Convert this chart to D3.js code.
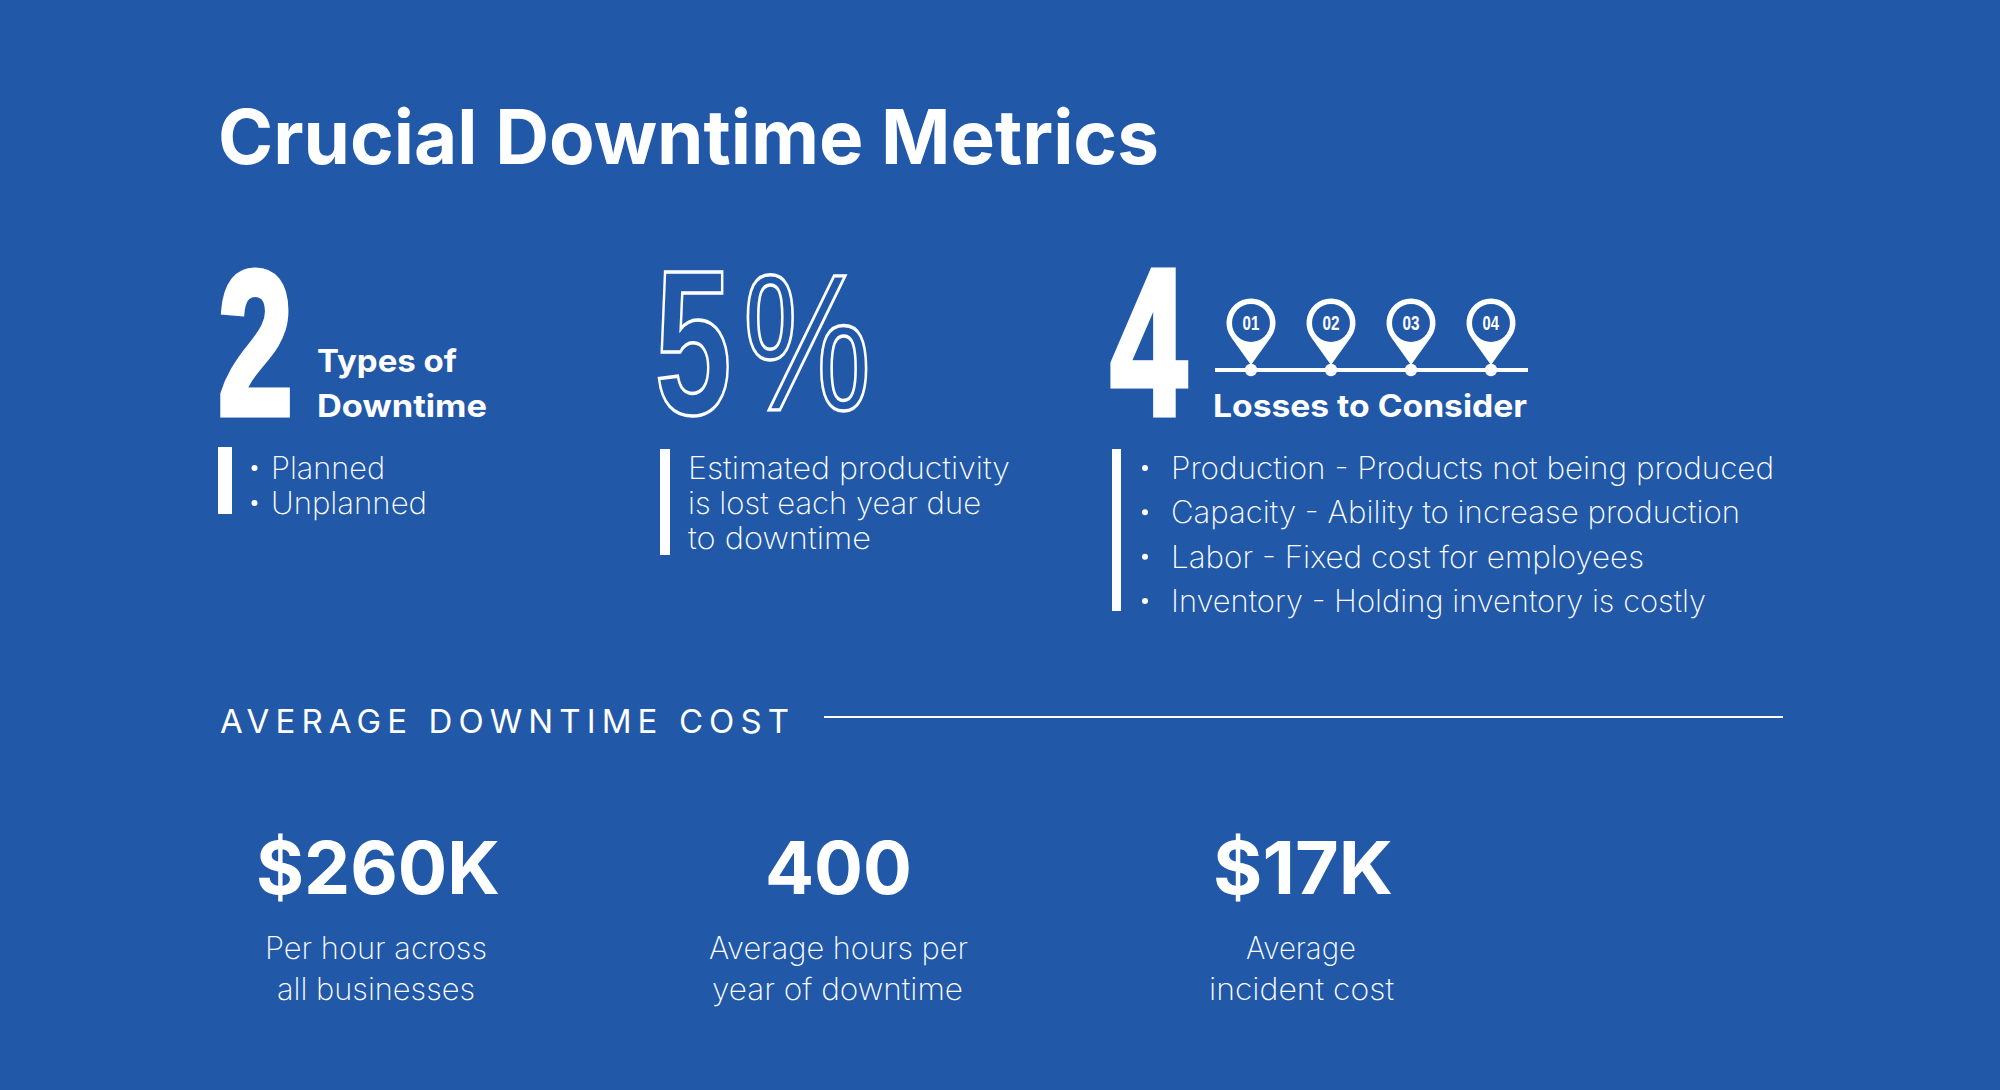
<!DOCTYPE html>
<html>
<head>
<meta charset="utf-8">
<script src="https://cdn.jsdelivr.net/npm/d3@7"></script>
<style>
  html, body { margin: 0; padding: 0; background: #2159a8; }
  svg { display: block; }
  text { fill: #fff; font-family: Inter, "Open Sans", sans-serif; }
  .light { font-weight: 200; font-size: 31px; }
  .head { font-weight: 700; font-size: 31px; }
  .big { font-family: "Liberation Sans", sans-serif; font-weight: 700; }
</style>
</head>
<body>
<script>
// Inhalte
const titleText = "Crucial Downtime Metrics";
const typesHead = ["Types of", "Downtime"];
const typesList = ["Planned", "Unplanned"];
const prodLines = ["Estimated productivity", "is lost each year due", "to downtime"];
const pinLabels = ["01", "02", "03", "04"];
const lossHead = "Losses to Consider";
const lossList = [
  "Production - Products not being produced",
  "Capacity - Ability to increase production",
  "Labor - Fixed cost for employees",
  "Inventory - Holding inventory is costly"
];
const sectionText = "AVERAGE DOWNTIME COST";
const costValues = ["$260K", "400", "$17K"];
const costLabels = [
  ["Per hour across", "all businesses"],
  ["Average hours per", "year of downtime"],
  ["Average", "incident cost"]
];

const bg = "#2159a8";
const svg = d3.select("body").append("svg").attr("width", 2000).attr("height", 1090);
svg.append("rect").attr("width", 2000).attr("height", 1090).attr("fill", bg);

// Schriftbreiten auf die Vorlage ziehen
function line(parent, txt, x, y, w, cls, size) {
  const t = parent.append("text").attr("x", x).attr("y", y).attr("class", cls).text(txt);
  if (size) t.style("font-size", size + "px");
  if (w) t.attr("textLength", w).attr("lengthAdjust", "spacingAndGlyphs");
  return t;
}

// Zeichen exakt in eine Box einpassen (grosse Ziffern)
const ctx = document.createElement("canvas").getContext("2d");
function fit(parent, txt, box, weight) {
  const [x0, y0, x1, y1] = box;
  ctx.font = `${weight} 100px "Liberation Sans"`;
  const m = ctx.measureText(txt);
  const sx = (x1 - x0) / (m.actualBoundingBoxLeft + m.actualBoundingBoxRight);
  const sy = (y1 - y0) / (m.actualBoundingBoxAscent + m.actualBoundingBoxDescent);
  return parent.append("text")
    .attr("class", "big")
    .style("font-size", "100px")
    .style("font-weight", weight)
    .attr("transform", `translate(${x0 + m.actualBoundingBoxLeft * sx},${y1 - m.actualBoundingBoxDescent * sy}) scale(${sx},${sy})`)
    .text(txt);
}

// Duenne Ziffern etwas fetter machen
function heavy(s, w) {
  return s.style("stroke", "#fff").style("stroke-width", w).style("vector-effect", "non-scaling-stroke");
}

function bar(x, y0, y1, w) {
  svg.append("rect").attr("x", x).attr("y", y0).attr("width", w).attr("height", y1 - y0).attr("fill", "#fff");
}

// Titel
line(svg, titleText, 218, 164, 941, "head", 75);

// Block 1
heavy(fit(svg, "2", [222, 271, 288, 414], 700), 6);
const headW = [140, 170];
typesHead.forEach((d, i) => line(svg, d, 317, [372, 417][i], headW[i], "head", 31));
bar(218, 447, 514, 14);
const typesY = d3.scalePoint().domain(typesList).range([479, 514]);
const typesW = [114, 156];
svg.selectAll(".dotA").data(typesList).enter().append("circle")
  .attr("cx", 254.5).attr("cy", d => typesY(d) - 11).attr("r", 3).attr("fill", "#fff");
typesList.forEach((d, i) => line(svg, d, 271, typesY(d), typesW[i], "light"));

// Block 2
const outline5 = fit(svg, "5", [659, 272, 728, 416], 700);
const outlinePct = fit(svg, "%", [747, 273, 867, 412], 400);
[outline5, outlinePct].forEach(s => s
  .style("fill", "none").style("stroke", "#fff").style("stroke-width", 3)
  .style("vector-effect", "non-scaling-stroke"));
bar(660, 449, 555, 10);
const prodY = d3.scalePoint().domain(prodLines).range([479, 549]);
const prodW = [322, 293, 183];
prodLines.forEach((d, i) => line(svg, d, 688, prodY(d), prodW[i], "light"));

// Block 3
heavy(fit(svg, "4", [1112, 271, 1187, 414], 700), 6);
const pinX = d3.scalePoint().domain(pinLabels).range([1251, 1491]);
const lineY = 370;
svg.append("line").attr("x1", 1215).attr("x2", 1528).attr("y1", lineY).attr("y2", lineY)
  .attr("stroke", "#fff").attr("stroke-width", 4);

function pinPath(r, d) {
  // Kreis mit Tangenten zur Spitze, Ursprung im Kreismittelpunkt
  const a = Math.asin(r / d);
  const p = d3.path();
  p.moveTo(0, d);
  p.arc(0, 0, r, a, Math.PI - a, true);
  p.closePath();
  return p.toString();
}
const pins = svg.selectAll(".pin").data(pinLabels).enter().append("g")
  .attr("class", "pin")
  .attr("transform", d => `translate(${pinX(d)},${lineY - 47})`);
pins.append("path").attr("d", pinPath(24.5, 42)).attr("fill", "#fff");
pins.append("circle").attr("r", 19).attr("fill", bg);
pins.each(function(d) { fit(d3.select(this), d, [-8, -7.5, 8, 7.5], 700); });
svg.selectAll(".stop").data(pinLabels).enter().append("circle")
  .attr("cx", d => pinX(d)).attr("cy", lineY).attr("r", 6.2).attr("fill", "#fff");
line(svg, lossHead, 1213, 417, 314, "head", 31);

bar(1112, 449, 611, 9);
const lossY = d3.scalePoint().domain(lossList).range([479, 612]);
const lossW = [603, 569, 473, 535];
svg.selectAll(".dotC").data(lossList).enter().append("circle")
  .attr("cx", 1145).attr("cy", d => lossY(d) - 11).attr("r", 3).attr("fill", "#fff");
lossList.forEach((d, i) => line(svg, d, 1171, lossY(d), lossW[i], "light"));

// Abschnitt Kosten
svg.append("text").attr("x", 220).attr("y", 733).attr("textLength", 569)
  .style("font-size", "33px").style("font-weight", 400).text(sectionText);
svg.append("line").attr("x1", 824).attr("x2", 1783).attr("y1", 717).attr("y2", 717)
  .attr("stroke", "#fff").attr("stroke-width", 2);

const costX = [256, 765, 1213];
const costW = [244, 147, 180];
costValues.forEach((d, i) => line(svg, d, costX[i], 894, costW[i], "head", 73));

const labelX = [[265, 277], [709, 712], [1246, 1209]];
const labelW = [[222, 198], [259, 251], [110, 185]];
costLabels.forEach((rows, i) => rows.forEach((d, j) =>
  line(svg, d, labelX[i][j], [959, 1000][j], labelW[i][j], "light")));
</script>
</body>
</html>
